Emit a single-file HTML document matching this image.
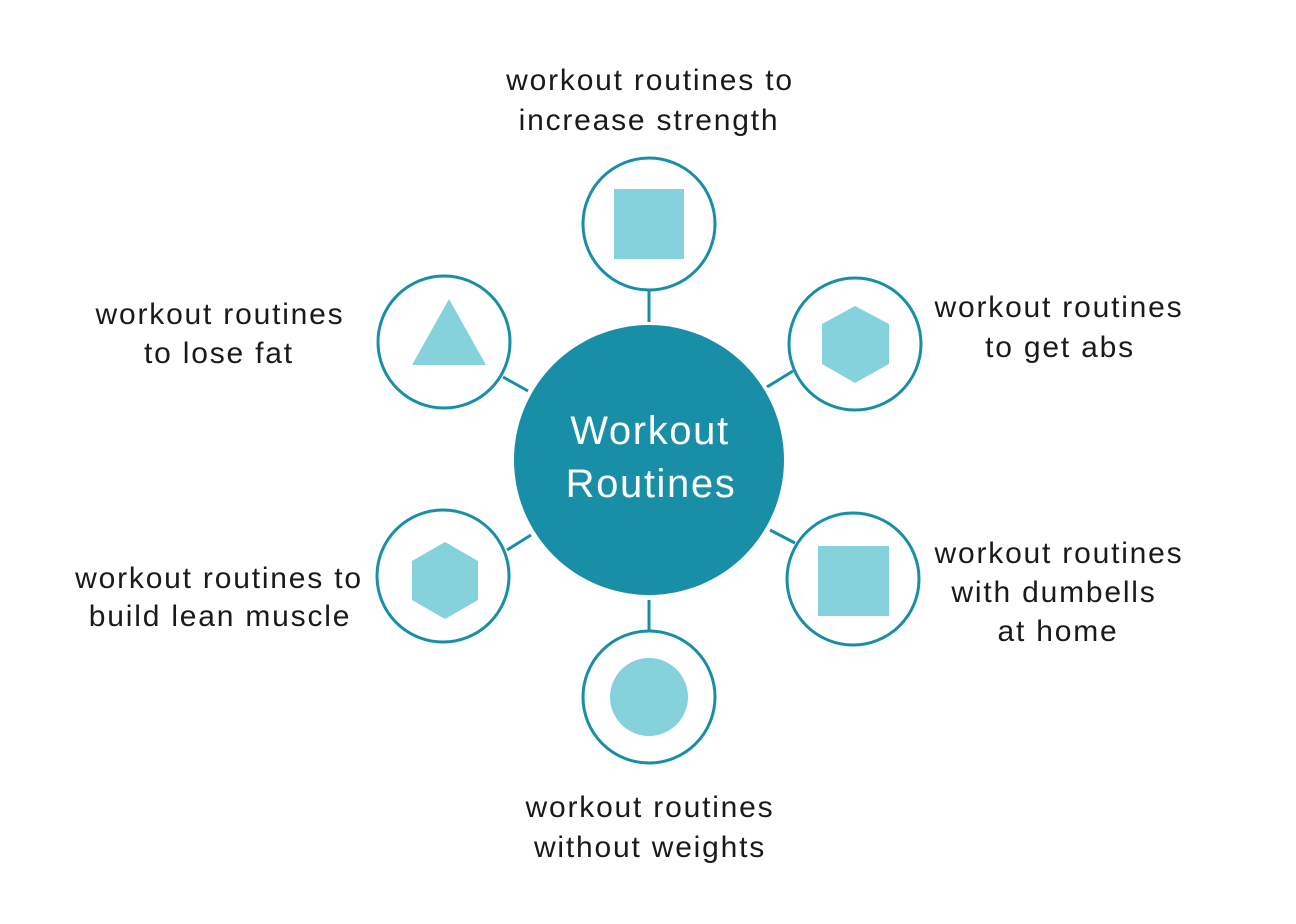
<!DOCTYPE html>
<html><head><meta charset="utf-8"><style>
html,body{margin:0;padding:0;background:#fff;}
svg{display:block;}
text{font-family:"Liberation Sans",sans-serif;}
.l{font-size:30px;fill:#1a1a1a;letter-spacing:1.8px;text-anchor:middle;}
.c{font-size:40px;fill:#fff;letter-spacing:1.6px;text-anchor:middle;}
</style></head><body>
<svg width="1296" height="924" viewBox="0 0 1296 924" xmlns="http://www.w3.org/2000/svg">
<g stroke="#188fa7" stroke-width="3" fill="none">
<line x1="649" y1="291" x2="649" y2="322"/>
<line x1="503" y1="377" x2="528" y2="391"/>
<line x1="767" y1="387" x2="793" y2="371"/>
<line x1="507" y1="550" x2="531" y2="535"/>
<line x1="770" y1="530" x2="795" y2="543"/>
<line x1="649" y1="600" x2="649" y2="630"/>
<circle cx="649" cy="224" r="66"/>
<circle cx="444" cy="342" r="66"/>
<circle cx="855" cy="344" r="66"/>
<circle cx="443" cy="576" r="66"/>
<circle cx="853" cy="579" r="66"/>
<circle cx="649" cy="697" r="66"/>
</g>
<circle cx="649" cy="460" r="135" fill="#188fa7"/>
<g fill="#85d1dc">
<rect x="614" y="189" width="70" height="70"/>
<polygon points="449,299 486,365 412,365"/>
<polygon points="855,306 889,324 889,364 855,383 822,364 822,324"/>
<polygon points="445,542 478,561 478,600 445,619 412,600 412,561"/>
<rect x="818" y="546" width="71" height="70"/>
<circle cx="649" cy="697" r="39"/>
</g>
<text class="c" x="650" y="444">Workout</text>
<text class="c" x="651" y="497">Routines</text>
<text class="l" x="650" y="90">workout routines to</text>
<text class="l" x="649" y="130">increase strength</text>
<text class="l" x="220" y="324">workout routines</text>
<text class="l" x="219" y="363">to lose fat</text>
<text class="l" x="1059" y="317">workout routines</text>
<text class="l" x="1060" y="357">to get abs</text>
<text class="l" x="219" y="588">workout routines to</text>
<text class="l" x="220" y="626">build lean muscle</text>
<text class="l" x="1059" y="563">workout routines</text>
<text class="l" x="1054" y="602">with dumbells</text>
<text class="l" x="1058" y="641">at home</text>
<text class="l" x="650" y="817">workout routines</text>
<text class="l" x="650" y="857">without weights</text>
</svg>
</body></html>
